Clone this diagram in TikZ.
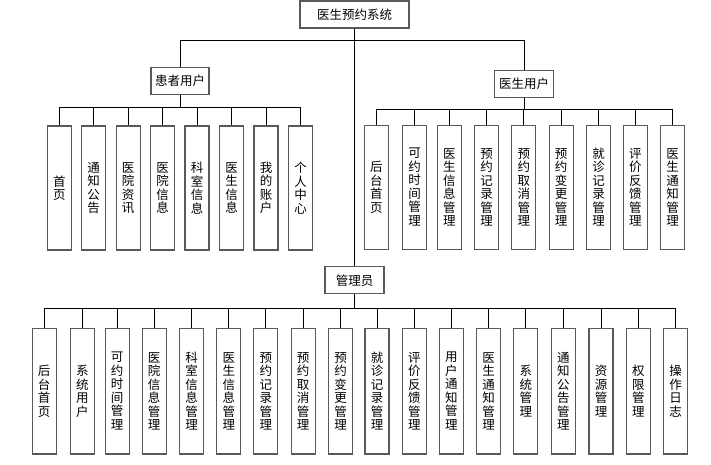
\documentclass[tikz,border=0pt]{standalone}
\usepackage{fontspec}
\newfontfamily\cjk{Noto Sans CJK SC}
\usetikzlibrary{positioning}

\begin{document}
\begin{tikzpicture}[x=1pt, y=-1pt,
    every node/.style={font=\cjk\fontsize{12.5}{13.5}\selectfont},
    topbox/.style={draw=black!65, line width=1.2pt, inner sep=0pt, minimum height=27pt},
    leaf/.style={draw=black!65, line width=1.2pt, inner sep=0pt, align=center, minimum width=24pt, minimum height=124pt},
    link/.style={draw=black, line width=0.8pt}
]
\useasboundingbox (0,0) rectangle (711,464);

% top levels
\node[topbox, minimum width=109pt] (root) at (354.5,14.5) {医生预约系统};
\node[topbox, minimum width=58pt] (pat) at (180,81) {患者用户};
\node[topbox, minimum width=59pt] (doc) at (524,83.7) {医生用户};
\node[topbox, minimum width=59pt] (adm) at (354.5,280.3) {管理员};

% patient side
\node[leaf] (p1) at (59.3,188) {首\\页};
\node[leaf] (p2) at (93.7,188) {通\\知\\公\\告};
\node[leaf] (p3) at (128.2,188) {医\\院\\资\\讯};
\node[leaf] (p4) at (162.5,188) {医\\院\\信\\息};
\node[leaf] (p5) at (197,188) {科\\室\\信\\息};
\node[leaf] (p6) at (231.5,188) {医\\生\\信\\息};
\node[leaf] (p7) at (266,188) {我\\的\\账\\户};
\node[leaf] (p8) at (300.5,188) {个\\人\\中\\心};

% doctor side
\node[leaf] (d1) at (376.3,187.2) {后\\台\\首\\页};
\node[leaf] (d2) at (414.7,187.2) {可\\约\\时\\间\\管\\理};
\node[leaf] (d3) at (449.3,187.2) {医\\生\\信\\息\\管\\理};
\node[leaf] (d4) at (486.7,187.2) {预\\约\\记\\录\\管\\理};
\node[leaf] (d5) at (523.8,187.2) {预\\约\\取\\消\\管\\理};
\node[leaf] (d6) at (561.2,187.2) {预\\约\\变\\更\\管\\理};
\node[leaf] (d7) at (598.5,187.2) {就\\诊\\记\\录\\管\\理};
\node[leaf] (d8) at (635.3,187.2) {评\\价\\反\\馈\\管\\理};
\node[leaf] (d9) at (672.7,187.2) {医\\生\\通\\知\\管\\理};

% admin side
\node[leaf, minimum height=125.7pt] (a1) at (44.2,391.2) {后\\台\\首\\页};
\node[leaf, minimum height=125.7pt] (a2) at (82.3,391.2) {系\\统\\用\\户};
\node[leaf, minimum height=125.7pt] (a3) at (117.2,391.2) {可\\约\\时\\间\\管\\理};
\node[leaf, minimum height=125.7pt] (a4) at (154.2,391.2) {医\\院\\信\\息\\管\\理};
\node[leaf, minimum height=125.7pt] (a5) at (191.5,391.2) {科\\室\\信\\息\\管\\理};
\node[leaf, minimum height=125.7pt] (a6) at (228.8,391.2) {医\\生\\信\\息\\管\\理};
\node[leaf, minimum height=125.7pt] (a7) at (265.8,391.2) {预\\约\\记\\录\\管\\理};
\node[leaf, minimum height=125.7pt] (a8) at (303.2,391.2) {预\\约\\取\\消\\管\\理};
\node[leaf, minimum height=125.7pt] (a9) at (340.5,391.2) {预\\约\\变\\更\\管\\理};
\node[leaf, minimum height=125.7pt] (a10) at (377,391.2) {就\\诊\\记\\录\\管\\理};
\node[leaf, minimum height=125.7pt] (a11) at (414.3,391.2) {评\\价\\反\\馈\\管\\理};
\node[leaf, minimum height=125.7pt] (a12) at (451.3,391.2) {用\\户\\通\\知\\管\\理};
\node[leaf, minimum height=125.7pt] (a13) at (488.7,391.2) {医\\生\\通\\知\\管\\理};
\node[leaf, minimum height=125.7pt] (a14) at (525.8,391.2) {系\\统\\管\\理};
\node[leaf, minimum height=125.7pt] (a15) at (563.3,391.2) {通\\知\\公\\告\\管\\理};
\node[leaf, minimum height=125.7pt] (a16) at (601,391.2) {资\\源\\管\\理};
\node[leaf, minimum height=125.7pt] (a17) at (638.3,391.2) {权\\限\\管\\理};
\node[leaf, minimum height=125.7pt] (a18) at (675.7,391.2) {操\\作\\日\\志};

% connectors
\draw[link] (root.south) -- ++(0,12) -| (pat.north);
\draw[link] (root.south) -- ++(0,12) -| (doc.north);
\draw[link] (root.south) -- (adm.north);
\foreach \n in {p1,p2,p3,p4,p5,p6,p7,p8}
  \draw[link] (pat.south) -- ++(0,12) -| (\n.north);
\foreach \n in {d1,d2,d3,d4,d5,d6,d7,d8,d9}
  \draw[link] (doc.south) -- ++(0,12) -| (\n.north);
\foreach \n in {a1,a2,a3,a4,a5,a6,a7,a8,a9,a10,a11,a12,a13,a14,a15,a16,a17,a18}
  \draw[link] (adm.south) -- ++(0,14) -| (\n.north);
\end{tikzpicture}
\end{document}
